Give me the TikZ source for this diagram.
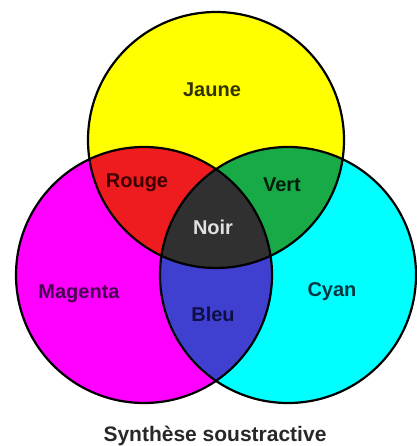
\documentclass[tikz,border=0pt]{standalone}
\usepackage{fontspec}
\setmainfont{Liberation Sans}
\definecolor{cY}{RGB}{255,255,0}
\definecolor{cM}{RGB}{255,0,255}
\definecolor{cC}{RGB}{0,255,255}
\definecolor{cR}{RGB}{238,28,30}
\definecolor{cG}{RGB}{24,170,70}
\definecolor{cB}{RGB}{64,64,208}
\definecolor{cK}{RGB}{48,48,48}
\definecolor{tY}{RGB}{50,50,0}
\definecolor{tM}{RGB}{70,0,80}
\definecolor{tC}{RGB}{0,55,65}
\definecolor{tR}{RGB}{60,0,0}
\definecolor{tG}{RGB}{0,30,10}
\definecolor{tB}{RGB}{15,15,70}
\definecolor{tK}{RGB}{225,225,225}
\definecolor{tCap}{RGB}{40,40,40}
\tikzset{
  lbl/.style={font=\fontsize{20}{24}\selectfont\bfseries, anchor=base, inner sep=0pt},
  ring/.style={draw=black, line width=2.2pt}
}
\begin{document}
\begin{tikzpicture}[x=1pt,y=-1pt]
\useasboundingbox (0,0) rectangle (416,446);
\fill[white] (0,0) rectangle (416,446);
\coordinate (Y) at (216,140);
\coordinate (M) at (144,275);
\coordinate (C) at (288,275);
\def\R{128}
\fill[cY] (Y) circle[radius=\R];
\fill[cM] (M) circle[radius=\R];
\fill[cC] (C) circle[radius=\R];
\begin{scope}
  \clip (Y) circle[radius=\R];
  \fill[cR] (M) circle[radius=\R];
  \fill[cG] (C) circle[radius=\R];
\end{scope}
\begin{scope}
  \clip (M) circle[radius=\R];
  \fill[cB] (C) circle[radius=\R];
  \clip (C) circle[radius=\R];
  \fill[cK] (Y) circle[radius=\R];
\end{scope}
\draw[ring] (Y) circle[radius=\R];
\draw[ring] (M) circle[radius=\R];
\draw[ring] (C) circle[radius=\R];
\node[lbl, text=tY] (jaune) at (212,97) {Jaune};
\node[lbl, text=tM] (magenta) at (79,298) {Magenta};
\node[lbl, text=tC] (cyan) at (332,296) {Cyan};
\node[lbl, text=tR] (rouge) at (137,188) {Rouge};
\node[lbl, text=tG] (vert) at (282,191) {Vert};
\node[lbl, text=tK] (noir) at (213,234) {Noir};
\node[lbl, text=tB] (bleu) at (213,321) {Bleu};
\node[font=\fontsize{21}{25}\selectfont\bfseries, anchor=base, inner sep=0pt, text=tCap] (cap) at (215,441) {Synthèse soustractive};
\end{tikzpicture}
\end{document}
